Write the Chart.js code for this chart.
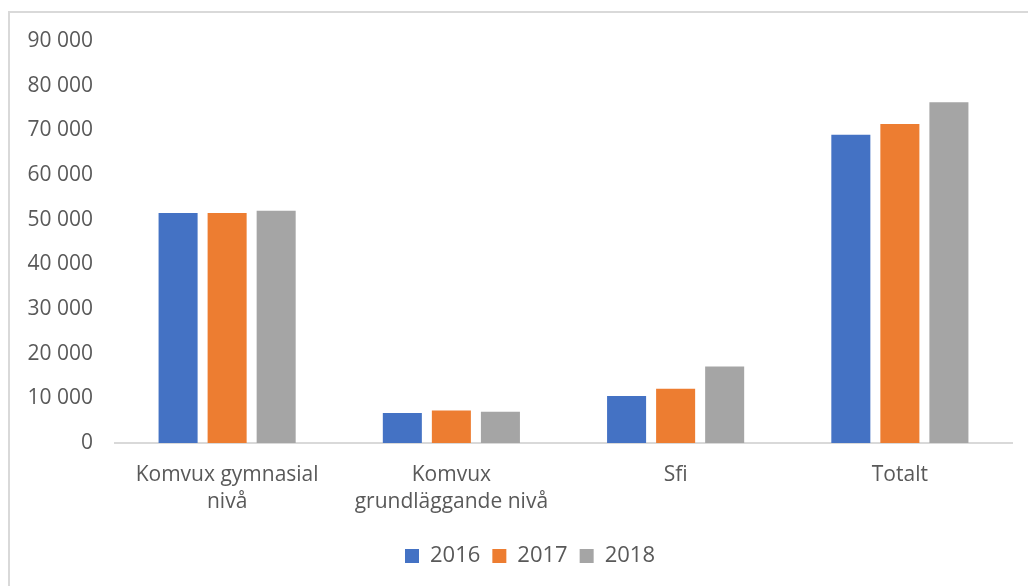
<!DOCTYPE html>
<html><head><meta charset="utf-8">
<script src="https://cdn.jsdelivr.net/npm/chart.js@4/dist/chart.umd.min.js"></script>
<style>
html,body{margin:0;padding:0;background:#fff;width:1028px;height:586px;overflow:hidden;}
#frame{position:absolute;left:8px;top:11px;width:1100px;height:700px;border-left:2px solid #d9d9d9;border-top:2px solid #d9d9d9;}
#wrap{position:absolute;left:0;top:0;width:1028px;height:586px;}
</style></head>
<body>
<div id="frame"></div>
<div id="wrap"><canvas id="c" width="1028" height="586"></canvas></div>
<script>
const categories = [['Komvux gymnasial','nivå'], ['Komvux','grundläggande nivå'], 'Sfi', 'Totalt'];
const seriesNames = ['2016', '2017', '2018'];
const values2016 = [51500, 6700, 10500, 69000];
const values2017 = [51500, 7300, 12150, 71400];
const values2018 = [52000, 7000, 17100, 76300];
const colors = ['#4472C4', '#ED7D31', '#A5A5A5'];
const yMin = 0, yMax = 90000, yStep = 10000;

const fontFamily = '"Open Sans", "Noto Sans", sans-serif';
const textColor = '#595959';

function fmt(v){ return v === 0 ? '0' : String(v).replace(/\B(?=(\d{3})+(?!\d))/g, ' '); }

const shiftLegend = {
  id: 'shiftLegend',
  afterLayout(chart) { if (chart.legend) chart.legend.left += 48; }
};

new Chart(document.getElementById('c'), {
  type: 'bar',
  data: {
    labels: categories,
    datasets: [values2016, values2017, values2018].map((d, i) => ({
      label: seriesNames[i],
      data: d,
      backgroundColor: colors[i],
      borderWidth: 0,
      categoryPercentage: 0.656,
      barPercentage: 0.796
    }))
  },
  plugins: [shiftLegend],
  options: {
    responsive: false,
    animation: false,
    devicePixelRatio: 1,
    layout: { padding: { top: 41, right: 16, bottom: 9, left: 0 } },
    plugins: {
      tooltip: { enabled: false },
      legend: {
        position: 'bottom',
        labels: {
          color: textColor,
          font: { family: fontFamily, size: 22 },
          boxWidth: 14, boxHeight: 14,
          padding: 12
        }
      }
    },
    scales: {
      x: {
        grid: { display: false },
        border: { display: true, color: '#d9d9d9', width: 2 },
        ticks: {
          color: textColor,
          font: { family: fontFamily, size: 21, lineHeight: 1.3 },
          maxRotation: 0, autoSkip: false, padding: 10
        },
        afterFit: s => { s.height = 90; }
      },
      y: {
        min: yMin, max: yMax,
        grid: { display: false, drawTicks: false },
        border: { display: false },
        ticks: {
          stepSize: yStep,
          color: textColor,
          font: { family: fontFamily, size: 21 },
          padding: 22,
          callback: v => fmt(v)
        },
        afterFit: s => { s.width = 115; }
      }
    }
  }
});
</script>
</body></html>
